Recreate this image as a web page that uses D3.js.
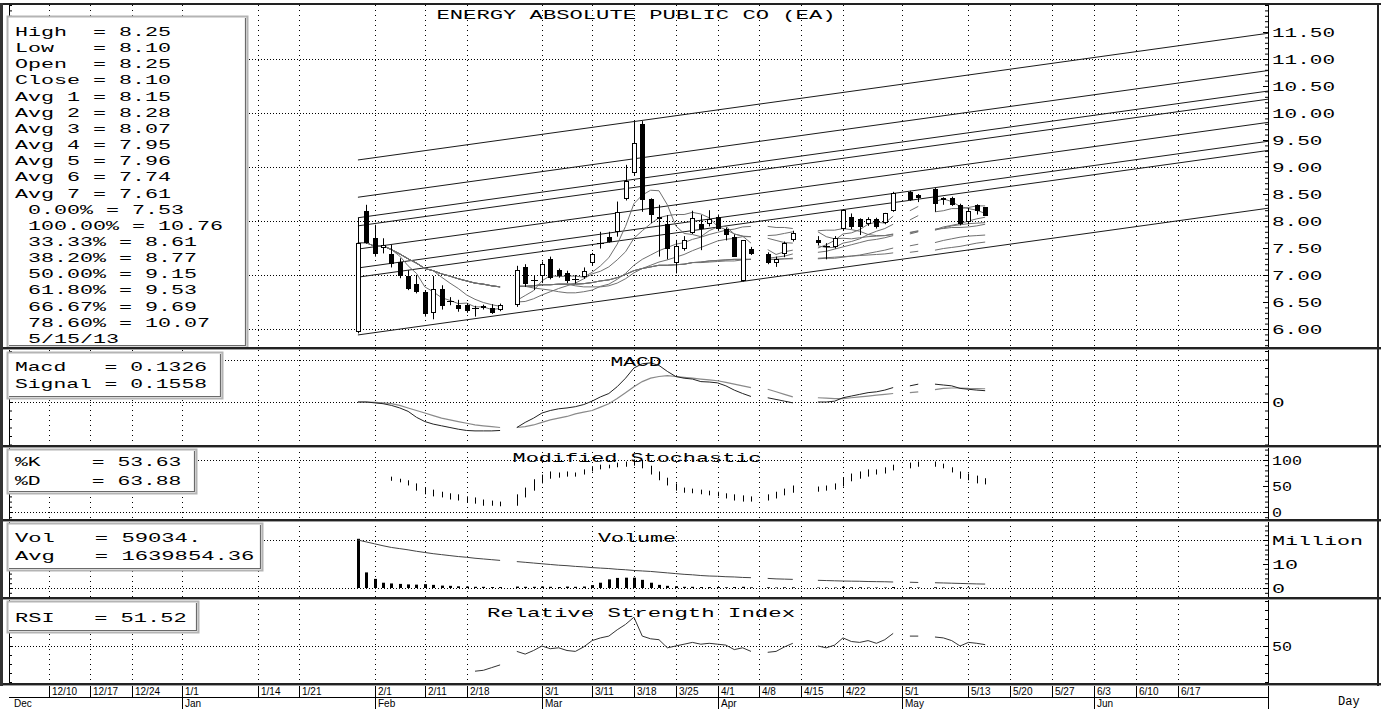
<!DOCTYPE html>
<html>
<head>
<meta charset="utf-8">
<title>ENERGY ABSOLUTE PUBLIC CO (EA)</title>
<script src="https://cdnjs.cloudflare.com/ajax/libs/d3/7.8.5/d3.min.js"></script>
<style>
  body { margin: 0; background: #fff; }
  svg text { white-space: pre; }
</style>
</head>
<body>
<svg id="chart" width="1385" height="709"></svg>
<script>
var MONO = '"Liberation Mono", "DejaVu Sans Mono", monospace';
var SANS = '"Liberation Sans", "DejaVu Sans", sans-serif';
var W = 1385, H = 709, PL = 9, PR = 1268;

// x axis is a weekday index, 0 = Mon 12/10/2012
var tickDays   = [0, 5, 10, 16, 25, 30, 39, 45, 50, 59, 65, 70, 75, 80, 85, 90, 95, 102, 110, 115, 120, 125, 130, 135];
var tickLabels = ['12/10','12/17','12/24','1/1','1/14','1/21','2/1','2/11','2/18','3/1','3/11','3/18','3/25',
                  '4/1','4/8','4/15','4/22','5/1','5/13','5/20','5/27','6/3','6/10','6/17'];
var monthDays   = [16, 39, 59, 80, 102, 125];
var monthLabels = ['Jan','Feb','Mar','Apr','May','Jun'];

var priceTicks = [6, 6.5, 7, 7.5, 8, 8.5, 9, 9.5, 10, 10.5, 11, 11.5];
var macdTicks = [0], stochTicks = [0, 50, 100], volTicks = [0, 10, 20], rsiTicks = [50];
var volTickLabels = ['0', '10', 'Million'];

// trading days (holidays leave gaps)
var tradeDays = [37,38,39,40,41,42,43,44,45,46,47,48,49,50,51,52,53,54,
  56,57,58,59,60,61,62,63,64,65,66,67,68,69,70,71,72,73,74,75,76,77,78,79,80,81,82,83,84,
  86,87,88,89, 92,93,94,95,96,97,98,99,100,101, 103,104, 106,107,108,109,110,111,112];

var openP = [5.95,8.19,7.69,7.50,7.39,7.25,6.98,6.83,6.69,6.29,6.74,6.51,6.44,6.44,6.38,6.38,6.38,6.35,
  6.44,7.14,6.91,6.98,7.29,7.09,7.04,6.93,6.97,7.22,7.59,7.70,7.80,8.40,8.88,9.80,8.40,8.04,7.94,7.23,7.49,7.78,7.94,7.94,8.08,7.85,7.70,6.88,7.49,
  7.39,7.23,7.39,7.64, 7.64,7.54,7.51,7.85,8.08,8.03,7.94,8.03,7.96,8.19, 8.54,8.49, 8.59,8.43,8.43,8.30,7.99,8.30,8.25];
var highP = [8.06,8.30,7.93,7.68,7.56,7.31,7.09,7.00,6.72,6.98,6.81,6.59,6.54,6.48,6.43,6.45,6.46,6.47,
  7.17,7.20,7.00,7.25,7.34,7.12,7.08,7.00,7.14,7.41,7.80,7.80,8.36,9.04,9.84,9.85,8.42,8.30,8.11,7.65,7.72,8.19,8.11,8.20,8.12,7.88,7.75,7.64,7.52,
  7.42,7.34,7.62,7.82, 7.72,7.59,7.72,8.22,8.14,8.05,8.07,8.06,8.15,8.54, 8.56,8.50, 8.61,8.44,8.45,8.32,8.24,8.31,8.25];
var lowP = [5.92,7.58,7.34,7.40,7.14,6.94,6.72,6.66,6.23,6.18,6.36,6.44,6.32,6.30,6.23,6.36,6.28,6.33,
  6.41,6.78,6.72,6.85,6.92,6.95,6.85,6.84,6.93,7.18,7.49,7.60,7.71,8.38,8.85,8.17,7.96,7.34,7.29,7.03,7.45,7.76,7.46,7.90,7.83,7.64,7.34,6.88,7.37,
  7.20,7.15,7.33,7.62, 7.55,7.29,7.49,7.83,7.85,7.74,7.91,7.86,7.94,8.17, 8.37,8.35, 8.17,8.30,8.28,7.92,7.94,8.12,8.10];
var closeP = [7.60,7.60,7.39,7.56,7.20,6.98,6.74,6.69,6.28,6.74,6.43,6.51,6.37,6.34,6.38,6.43,6.29,6.44,
  7.09,6.83,6.91,7.20,6.94,6.98,6.88,6.90,7.08,7.39,7.59,7.62,8.17,8.75,9.45,8.39,8.11,8.08,7.48,7.54,7.65,8.05,7.85,8.03,7.85,7.74,7.34,7.64,7.39,
  7.23,7.29,7.59,7.78, 7.59,7.54,7.68,8.20,7.89,7.88,8.03,7.88,8.14,8.52, 8.39,8.43, 8.31,8.39,8.30,7.94,8.19,8.19,8.10];

var avg1 = [7.60,7.60,7.53,7.54,7.47,7.35,7.17,7.03,6.78,6.69,6.58,6.53,6.47,6.48,6.41,6.41,6.36,6.38,
  6.53,6.62,6.71,6.89,6.99,6.97,6.98,6.98,6.96,7.05,7.17,7.32,7.57,7.90,8.32,8.48,8.57,8.56,8.30,7.91,7.77,7.75,7.71,7.82,7.89,7.90,7.76,7.72,7.59,
  7.47,7.38,7.43,7.46, 7.50,7.56,7.64,7.76,7.78,7.84,7.94,7.98,7.96,8.09, 8.19,8.27, 8.36,8.41,8.36,8.27,8.23,8.20,8.14];
var avg2 = [7.60,7.60,7.53,7.54,7.47,7.39,7.30,7.22,7.12,7.08,6.96,6.85,6.75,6.63,6.55,6.49,6.45,6.42,
  6.50,6.51,6.56,6.63,6.69,6.75,6.80,6.85,6.93,7.02,7.07,7.15,7.28,7.43,7.68,7.82,7.95,8.06,8.10,8.12,8.12,8.16,8.13,8.06,7.90,7.84,7.76,7.72,7.71,
  7.68,7.64,7.60,7.59, 7.54,7.51,7.51,7.59,7.62,7.67,7.75,7.81,7.86,7.94, 8.02,8.10, 8.17,8.19,8.23,8.23,8.25,8.28,8.28];
var avg3 = [7.60,7.60,7.53,7.54,7.47,7.39,7.30,7.22,7.12,7.08,7.02,6.98,6.93,6.89,6.85,6.83,6.80,6.78,
  6.79,6.79,6.76,6.74,6.72,6.69,6.67,6.67,6.69,6.72,6.79,6.83,6.92,7.03,7.18,7.29,7.37,7.45,7.51,7.57,7.60,7.66,7.70,7.75,7.79,7.83,7.85,7.89,7.90,
  7.90,7.88,7.88,7.86, 7.80,7.71,7.67,7.68,7.67,7.69,7.71,7.72,7.73,7.76, 7.78,7.81, 7.84,7.89,7.92,7.95,8.00,8.04,8.07];
var avg4 = [7.60,7.60,7.53,7.54,7.47,7.39,7.30,7.22,7.12,7.08,7.02,6.98,6.93,6.89,6.85,6.83,6.80,6.78,
  6.79,6.79,6.80,6.82,6.82,6.83,6.83,6.80,6.78,6.78,6.78,6.80,6.85,6.93,7.04,7.12,7.18,7.24,7.28,7.33,7.38,7.45,7.51,7.57,7.63,7.66,7.68,7.71,7.71,
  7.73,7.74,7.77,7.80, 7.82,7.83,7.83,7.86,7.84,7.81,7.75,7.73,7.73,7.75, 7.79,7.82, 7.85,7.86,7.88,7.88,7.89,7.91,7.94];
var avg5 = [7.60,7.60,7.53,7.54,7.47,7.39,7.30,7.22,7.12,7.08,7.02,6.98,6.93,6.89,6.85,6.83,6.80,6.78,
  6.79,6.79,6.80,6.82,6.82,6.83,6.83,6.83,6.84,6.86,6.89,6.91,6.95,7.01,7.08,7.12,7.15,7.18,7.18,7.19,7.20,7.23,7.23,7.24,7.25,7.26,7.26,7.28,7.29,
  7.31,7.33,7.35,7.39, 7.42,7.44,7.48,7.52,7.56,7.60,7.64,7.66,7.69,7.73, 7.76,7.80, 7.83,7.87,7.91,7.93,7.95,7.96,7.97];
var avg6 = [7.60,7.60,7.53,7.54,7.47,7.39,7.30,7.22,7.12,7.08,7.02,6.98,6.93,6.89,6.85,6.83,6.80,6.78,
  6.79,6.79,6.80,6.82,6.82,6.83,6.83,6.83,6.84,6.86,6.89,6.91,6.95,7.01,7.08,7.12,7.15,7.18,7.18,7.19,7.20,7.23,7.24,7.26,7.27,7.28,7.29,7.29,7.29,
  7.29,7.29,7.30,7.30, 7.30,7.31,7.31,7.33,7.35,7.37,7.40,7.43,7.46,7.50, 7.54,7.57, 7.60,7.64,7.67,7.70,7.72,7.73,7.74];
var avg7 = [7.60,7.60,7.53,7.54,7.47,7.39,7.30,7.22,7.12,7.08,7.02,6.98,6.93,6.89,6.85,6.83,6.80,6.78,
  6.79,6.79,6.80,6.82,6.82,6.83,6.83,6.83,6.84,6.86,6.89,6.91,6.95,7.01,7.08,7.12,7.15,7.18,7.18,7.19,7.20,7.23,7.24,7.26,7.27,7.28,7.29,7.29,7.29,
  7.29,7.29,7.30,7.31, 7.31,7.32,7.33,7.34,7.35,7.36,7.37,7.38,7.39,7.41, 7.42,7.44, 7.46,7.49,7.51,7.53,7.56,7.59,7.61];

// trend channel (0%, 33.33%, 38.2%, 50%, 61.8%, 66.67%, 78.6%, 100%)
var fibStartDay = 37, fibEndDay = 146;
var fibStart = [5.89, 6.96, 7.13, 7.48, 7.91, 8.06, 8.44, 9.13];
var fibEnd   = [8.24, 9.31, 9.48, 9.83, 10.26, 10.41, 10.79, 11.48];

var macdVals = [0,0,-0.01,-0.02,-0.04,-0.07,-0.11,-0.18,-0.23,-0.26,-0.28,-0.30,-0.32,-0.335,-0.34,-0.34,-0.34,-0.335,
  -0.30,-0.24,-0.19,-0.13,-0.10,-0.08,-0.07,-0.055,-0.03,0.01,0.06,0.10,0.18,0.28,0.40,0.45,0.46,0.43,0.36,0.30,0.28,0.27,0.24,0.235,0.225,0.19,0.14,0.10,0.065,
  0.05,0.03,0.01,-0.01, 0.0,0.0,0.01,0.05,0.07,0.09,0.11,0.12,0.14,0.17, 0.19,0.21, 0.21,0.20,0.19,0.16,0.15,0.14,0.133];
var signalVals = [0,0,-0.005,-0.01,-0.02,-0.04,-0.07,-0.10,-0.13,-0.16,-0.19,-0.21,-0.23,-0.25,-0.27,-0.28,-0.29,-0.30,
  -0.30,-0.29,-0.27,-0.24,-0.21,-0.19,-0.17,-0.14,-0.12,-0.10,-0.06,-0.02,0.04,0.11,0.18,0.24,0.28,0.30,0.31,0.30,0.29,0.28,0.27,0.26,0.25,0.23,0.21,0.19,0.17,
  0.15,0.12,0.09,0.06, 0.05,0.045,0.04,0.04,0.05,0.06,0.07,0.08,0.09,0.10, 0.11,0.12, 0.145,0.16,0.165,0.165,0.16,0.158,0.156];

var stochK = [null,null,null,null, 61,58,52,42,35,31,29,25,23,19,17,13,13,12,
  33,46,62,71,77,75,77,75,81,87,90,90,94,96,100,85,73,62,52,42,38,37,35,33,31,27,23,21,21,
  33,38,44,50, 48,50,54,65,73,77,81,81,85,90, 94,96, 88,85,77,65,62,56,54];
var stochD = [null,null,null,null, 67,63,60,54,46,42,38,35,33,29,27,23,21,19,
  13,29,42,56,65,67,69,69,73,79,83,85,87,88,90,98,88,77,65,54,46,44,42,40,38,35,33,31,29,
  23,27,33,38, 40,42,44,50,60,65,69,73,75,81, 85,88, 96,92,85,77,73,69,64];

// volume in millions
var volume = [20.5,6.5,3.8,2.2,1.9,1.7,1.5,1.4,1.6,1.3,1.0,0.9,0.7,0.6,0.5,0.5,0.4,0.4,
  0.6,0.5,0.5,0.6,0.5,0.4,0.6,0.5,0.6,1.2,2.2,3.6,4.2,4.3,4.3,3.4,2.2,1.3,0.9,0.7,0.5,0.5,0.4,0.4,0.4,0.3,0.4,0.5,0.3,
  0.3,0.2,0.3,0.3, 0.2,0.2,0.2,0.5,0.3,0.3,0.2,0.2,0.2,0.4, 0.3,0.2, 0.3,0.2,0.2,0.3,0.2,0.1,0.06];
var volAvg = [20.0,19.2,18.4,17.6,16.9,16.4,15.9,15.3,14.8,14.3,13.9,13.5,13.1,12.8,12.4,12.1,11.8,11.5,
  11.0,10.7,10.4,10.1,9.8,9.5,9.3,9.0,8.8,8.5,8.3,8.1,7.8,7.6,7.3,7.1,6.9,6.6,6.3,6.0,5.7,5.5,5.2,5.0,4.9,4.7,4.6,4.4,4.3,
  4.0,3.8,3.7,3.6, 3.2,3.1,3.0,2.9,2.85,2.8,2.7,2.65,2.6,2.5, 2.4,2.3, 2.2,2.1,2.0,1.9,1.8,1.7,1.64];

var rsiVals = [null,null,null,null,null,null,null,null,null,null,null,null,null,null, 22,23,26,29,
  44,41,45,50,47,48,45,44,49,56,59,61,68,74,82,61,58,57,48,50,52,54,52,53,52,51,46,48,44,
  43,44,49,53, 50,48,51,59,55,54,56,53,57,64, 61,61, 60,59,56,50,54,53,51.5];

var mainInfo = ['High  = 8.25','Low   = 8.10','Open  = 8.25','Close = 8.10','Avg 1 = 8.15','Avg 2 = 8.28',
  'Avg 3 = 8.07','Avg 4 = 7.95','Avg 5 = 7.96','Avg 6 = 7.74','Avg 7 = 7.61',' 0.00% = 7.53',' 100.00% = 10.76',
  ' 33.33% = 8.61',' 38.20% = 8.77',' 50.00% = 9.15',' 61.80% = 9.53',' 66.67% = 9.69',' 78.60% = 10.07',' 5/15/13'];
var macdInfo = ['Macd   = 0.1326', 'Signal = 0.1558'];
var stochInfo = ['%K    = 53.63', '%D    = 63.88'];
var volInfo = ['Vol   = 59034.', 'Avg   = 1639854.36'];
var rsiInfo = ['RSI   = 51.52'];

// ---------------------------------------------------------------
var svg = d3.select('#chart');
svg.append('rect').attr('width', W).attr('height', H).attr('fill', '#fff');
var defs = svg.append('defs');

var x = d3.scaleLinear().domain([0, 135]).range([48.5, 1177.5]);
var yPrice = d3.scaleLinear().domain([6, 11.5]).range([329, 32]);
var yMacd = d3.scaleLinear().domain([0, 0.5]).range([402, 359.5]);
var yStoch = d3.scaleLinear().domain([0, 100]).range([512, 460]);
var yVol = d3.scaleLinear().domain([0, 20]).range([588, 540]);
var yRsi = d3.scaleLinear().domain([0, 100]).range([691, 601]);

var P = {
  main:  { top: 5,   bottom: 347 },
  macd:  { top: 350, bottom: 445 },
  stoch: { top: 447, bottom: 519 },
  vol:   { top: 521, bottom: 597 },
  rsi:   { top: 599, bottom: 683 }
};

function px(v) { return Math.round(v) + 0.5; }

Object.keys(P).forEach(function(name) {
  var p = P[name];
  defs.append('clipPath').attr('id', 'clip-' + name).append('rect')
    .attr('x', PL).attr('y', p.top).attr('width', PR - PL).attr('height', p.bottom - p.top);
  var g = svg.append('g').attr('class', 'panel ' + name);
  p.grid = g.append('g');
  p.plot = g.append('g').attr('clip-path', 'url(#clip-' + name + ')');
  p.over = g.append('g');
  // vertical dotted grid at the date ticks
  p.grid.selectAll('line.vg').data(tickDays).enter().append('line')
    .attr('x1', function(d) { return px(x(d)); }).attr('x2', function(d) { return px(x(d)); })
    .attr('y1', p.top).attr('y2', p.bottom)
    .attr('stroke', '#000').attr('stroke-dasharray', '1,4');
});

function hGrid(p, scale, vals) {
  p.grid.selectAll(null).data(vals).enter().append('line')
    .attr('x1', PL).attr('x2', PR)
    .attr('y1', function(d) { return px(scale(d)); }).attr('y2', function(d) { return px(scale(d)); })
    .attr('stroke', '#000').attr('stroke-dasharray', '1,2');
}
hGrid(P.main, yPrice, [6, 7, 8, 9, 10, 11]);
hGrid(P.macd, yMacd, [0, 0.5]);
hGrid(P.stoch, yStoch, [0, 100]);
hGrid(P.vol, yVol, [0, 20]);
hGrid(P.rsi, yRsi, [50]);

// split a per-trading-day series into runs (broken at holidays)
function runs(vals) {
  var out = [], cur = [];
  tradeDays.forEach(function(d, i) {
    var v = vals[i];
    var prev = cur.length ? cur[cur.length - 1][0] : null;
    if (v == null || (prev != null && d - prev > 1)) {
      if (cur.length) out.push(cur);
      cur = [];
    }
    if (v != null) cur.push([d, v]);
  });
  if (cur.length) out.push(cur);
  return out;
}

function drawSeries(g, vals, yScale, color, width) {
  var line = d3.line().x(function(d) { return x(d[0]); }).y(function(d) { return yScale(d[1]); });
  g.selectAll(null).data(runs(vals)).enter().append('path')
    .attr('d', line).attr('fill', 'none').attr('stroke', color).attr('stroke-width', width || 1);
}

// ---- main price panel
var fibLines = fibStart.map(function(v, i) { return [[fibStartDay, v], [fibEndDay, fibEnd[i]]]; });
P.main.plot.selectAll('path.fib').data(fibLines).enter().append('path')
  .attr('d', d3.line().x(function(d) { return x(d[0]); }).y(function(d) { return yPrice(d[1]); }))
  .attr('fill', 'none').attr('stroke', '#1a1a1a').attr('stroke-width', 1);

[avg7, avg6, avg5, avg4, avg3, avg2, avg1].forEach(function(a) {
  drawSeries(P.main.plot, a, yPrice, '#707070', 1);
});

var candles = tradeDays.map(function(d, i) {
  return { day: d, o: openP[i], h: highP[i], l: lowP[i], c: closeP[i] };
});
var cg = P.main.plot.selectAll('g.candle').data(candles).enter().append('g').attr('class', 'candle');
cg.append('line')
  .attr('x1', function(d) { return px(x(d.day)); }).attr('x2', function(d) { return px(x(d.day)); })
  .attr('y1', function(d) { return yPrice(d.h); }).attr('y2', function(d) { return yPrice(d.l); })
  .attr('stroke', '#000');
cg.each(function(d) {
  var g = d3.select(this), cx = Math.round(x(d.day));
  var yt = Math.round(yPrice(Math.max(d.o, d.c))), yb = Math.round(yPrice(Math.min(d.o, d.c)));
  if (yb - yt < 2) {
    g.append('line').attr('x1', cx - 3).attr('x2', cx + 4)
      .attr('y1', yt + 0.5).attr('y2', yt + 0.5).attr('stroke', '#000');
  } else {
    g.append('rect').attr('x', cx - 1.5).attr('y', yt + 0.5)
      .attr('width', 4).attr('height', yb - yt - 1)
      .attr('fill', d.c >= d.o ? '#fff' : '#000').attr('stroke', '#000');
  }
});

// ---- MACD
drawSeries(P.macd.plot, signalVals, yMacd, '#8a8a8a', 1.2);
drawSeries(P.macd.plot, macdVals, yMacd, '#222', 1);

// ---- stochastic: a short bar between %K and %D each day
var stoch = [];
tradeDays.forEach(function(d, i) { if (stochK[i] != null) stoch.push({ day: d, k: stochK[i], d: stochD[i] }); });
P.stoch.plot.selectAll('line.st').data(stoch).enter().append('line')
  .attr('x1', function(d) { return px(x(d.day)); }).attr('x2', function(d) { return px(x(d.day)); })
  .attr('y1', function(d) { return Math.min(yStoch(d.k), yStoch(d.d)) - 0.5; })
  .attr('y2', function(d) { return Math.max(yStoch(d.k), yStoch(d.d)) + 0.5; })
  .attr('stroke', '#000');

// ---- volume
P.vol.plot.selectAll('rect.vb').data(tradeDays).enter().append('rect')
  .attr('x', function(d) { return Math.round(x(d)) - 1; })
  .attr('y', function(d, i) { return yVol(volume[i]); })
  .attr('width', 3)
  .attr('height', function(d, i) { return yVol(0) - yVol(volume[i]); })
  .attr('fill', '#000');
drawSeries(P.vol.plot, volAvg, yVol, '#444', 1);

// ---- RSI
drawSeries(P.rsi.plot, rsiVals, yRsi, '#333', 1);

// ---- axes (ticks inside the plot, labels to the right)
function monoFit(sel, pitch, size) {
  sel.attr('font-family', MONO).attr('font-size', size || 13).attr('fill', '#000')
    .attr('lengthAdjust', 'spacingAndGlyphs')
    .attr('textLength', function() { return this.textContent.length * pitch; });
}
function panelAxes(p, scale, minorVals, majorVals, majorLabels, pitch) {
  var r1 = p.over.append('g').attr('transform', 'translate(' + PR + ',0)').attr('color', '#000')
    .call(d3.axisRight(scale).tickValues(minorVals).tickSize(-3).tickSizeOuter(0).tickFormat(''));
  r1.select('.domain').remove();
  var r2 = p.over.append('g').attr('transform', 'translate(' + PR + ',0)').attr('color', '#000')
    .call(d3.axisRight(scale).tickValues(majorVals).tickSize(-5).tickSizeOuter(0).tickPadding(4)
      .tickFormat(function(d, i) { return majorLabels[i]; }));
  r2.select('.domain').remove();
  monoFit(r2.selectAll('text'), pitch);
  var l1 = p.over.append('g').attr('transform', 'translate(' + PL + ',0)').attr('color', '#000')
    .call(d3.axisLeft(scale).tickValues(minorVals).tickSize(-3).tickSizeOuter(0).tickFormat(''));
  l1.select('.domain').remove();
  [PL, PR].forEach(function(xx) {
    p.over.append('line').attr('x1', xx + 0.5).attr('x2', xx + 0.5)
      .attr('y1', p.top).attr('y2', p.bottom).attr('stroke', '#000');
  });
}
function within(p, scale, step) {
  var lo = scale.invert(p.bottom), hi = scale.invert(p.top), out = [];
  for (var v = Math.ceil(lo / step) * step; v <= hi; v += step) out.push(+v.toFixed(4));
  return out;
}
panelAxes(P.main, yPrice, within(P.main, yPrice, 0.1), priceTicks, priceTicks.map(function(v) { return v.toFixed(2); }), 12.6);
panelAxes(P.macd, yMacd, within(P.macd, yMacd, 0.1), macdTicks, ['0'], 12.6);
panelAxes(P.stoch, yStoch, within(P.stoch, yStoch, 10), stochTicks, stochTicks.map(String), 10);
panelAxes(P.vol, yVol, within(P.vol, yVol, 2), volTicks, volTickLabels, 13);
panelAxes(P.rsi, yRsi, within(P.rsi, yRsi, 10), rsiTicks, ['50'], 10);

// ---- titles
function title(p, str, cx, base, pitch) {
  p.over.append('text').attr('x', cx).attr('y', base).attr('text-anchor', 'middle')
    .text(str).call(monoFit, pitch, 13);
}
title(P.main, 'ENERGY ABSOLUTE PUBLIC CO (EA)', 636, 19, 13.3);
title(P.macd, 'MACD', 636, 366, 12.8);
title(P.stoch, 'Modified Stochastic', 637, 462, 13.1);
title(P.vol, 'Volume', 637, 542, 13);
title(P.rsi, 'Relative Strength Index', 641, 617, 13.4);

// ---- info boxes
function infoBox(p, bx, by, bw, bh, rows, tx, base0, step, pitch) {
  var g = p.over.append('g');
  g.append('rect').attr('x', bx + 0.5).attr('y', by + 0.5).attr('width', bw).attr('height', bh)
    .attr('fill', '#fff').attr('stroke', '#b4b4b4').attr('stroke-width', 2);
  g.append('path').attr('d', 'M' + (bx + bw - 1.5) + ',' + (by + 2) + 'V' + (by + bh - 1.5) + 'H' + (bx + 2))
    .attr('fill', 'none').attr('stroke', '#6a6a6a').attr('stroke-width', 1.2);
  g.selectAll('text').data(rows).enter().append('text')
    .attr('x', tx).attr('y', function(d, i) { return base0 + i * step; })
    .attr('xml:space', 'preserve')
    .text(function(d) { return d; })
    .call(monoFit, pitch, 13);
}
infoBox(P.main, 7, 16, 240, 331, mainInfo, 15, 36, 16.15, 13);
infoBox(P.macd, 7, 352, 215, 46, macdInfo, 15, 371, 17, 12.8);
infoBox(P.stoch, 7, 449, 189, 44, stochInfo, 15, 466, 19, 12.8);
infoBox(P.vol, 7, 523, 255, 47, volInfo, 15, 542, 18, 13.3);
infoBox(P.rsi, 7, 601, 191, 31, rsiInfo, 15, 622, 18, 13.2);

// ---- x axis strip
var xa = svg.append('g');
xa.selectAll('line.dt').data(tickDays).enter().append('line')
  .attr('x1', function(d) { return px(x(d)); }).attr('x2', function(d) { return px(x(d)); })
  .attr('y1', 686).attr('y2', 698).attr('stroke', '#000');
xa.selectAll('text.dt').data(tickDays).enter().append('text')
  .attr('x', function(d) { return Math.round(x(d)) + 3; }).attr('y', 695)
  .attr('font-family', SANS).attr('font-size', 10).attr('fill', '#000')
  .text(function(d, i) { return tickLabels[i]; });
xa.append('line').attr('x1', PL).attr('x2', PR).attr('y1', 697.5).attr('y2', 697.5).attr('stroke', '#000');
xa.selectAll('line.mt').data(monthDays).enter().append('line')
  .attr('x1', function(d) { return px(x(d)); }).attr('x2', function(d) { return px(x(d)); })
  .attr('y1', 697).attr('y2', 709).attr('stroke', '#000');
xa.selectAll('text.mt').data(monthDays).enter().append('text')
  .attr('x', function(d) { return Math.round(x(d)) + 3; }).attr('y', 707)
  .attr('font-family', SANS).attr('font-size', 10).attr('fill', '#000')
  .text(function(d, i) { return monthLabels[i]; });
xa.append('text').attr('x', 14).attr('y', 707).attr('font-family', SANS).attr('font-size', 10).text('Dec');
xa.append('line').attr('x1', PR + 0.5).attr('x2', PR + 0.5).attr('y1', 684).attr('y2', 709).attr('stroke', '#000');
xa.append('text').attr('x', 1338).attr('y', 705).attr('font-family', MONO).attr('font-size', 12).text('Day');

// ---- frame and panel separators
[347, 445, 519, 597, 683].forEach(function(y) {
  svg.append('rect').attr('x', 0).attr('y', y).attr('width', 1381).attr('height', 2).attr('fill', '#222');
  svg.append('rect').attr('x', 0).attr('y', y + 2).attr('width', 1381).attr('height', 1).attr('fill', '#a0a0a0');
});
svg.append('rect').attr('x', 0).attr('y', 3).attr('width', 1381).attr('height', 2).attr('fill', '#222');
svg.append('rect').attr('x', 0).attr('y', 3).attr('width', 3).attr('height', 683).attr('fill', '#333');
svg.append('rect').attr('x', 1377).attr('y', 3).attr('width', 2).attr('height', 683).attr('fill', '#222');
</script>
</body>
</html>
